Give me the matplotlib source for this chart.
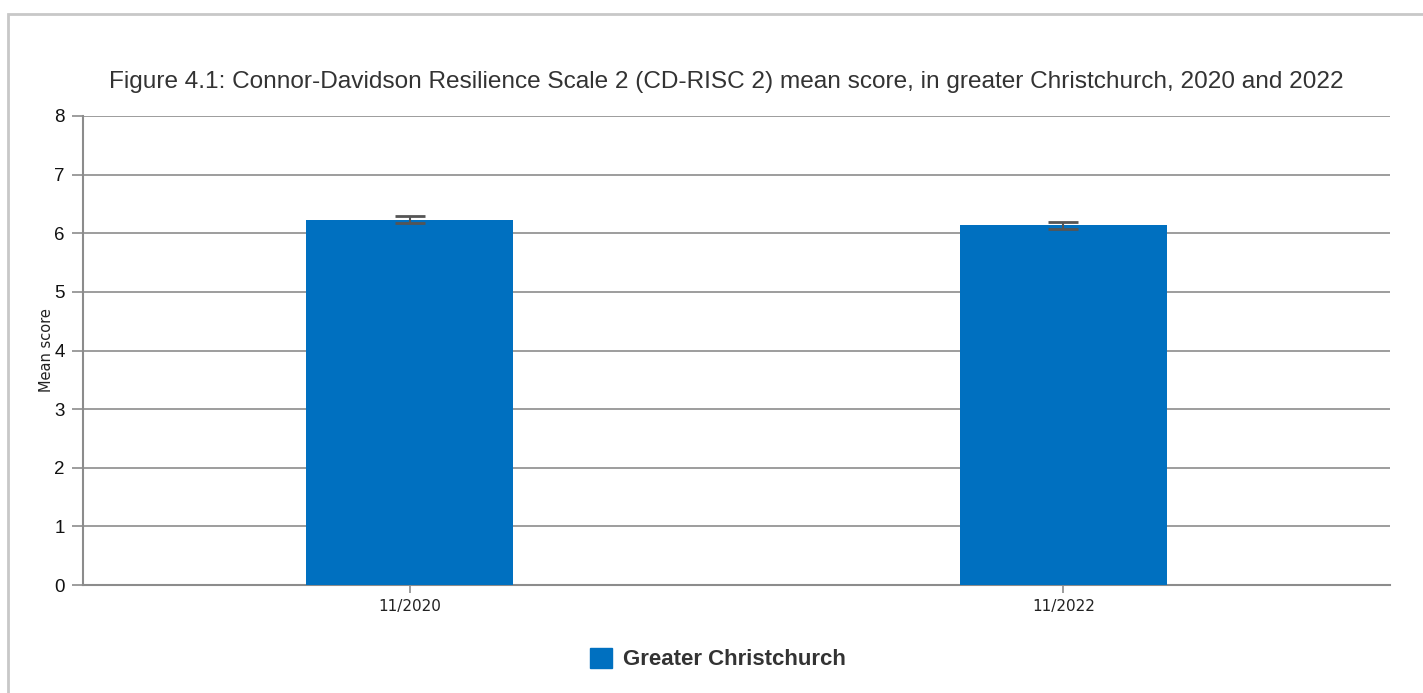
import matplotlib
matplotlib.use("Agg")
import matplotlib.pyplot as plt
from matplotlib.patches import Rectangle, Patch

categories = ["11/2020", "11/2022"]
means = [6.23, 6.14]
errors = [0.06, 0.06]
series_name = "Greater Christchurch"
title = "Figure 4.1: Connor-Davidson Resilience Scale 2 (CD-RISC 2) mean score, in greater Christchurch, 2020 and 2022"
yticks = [0, 1, 2, 3, 4, 5, 6, 7, 8]

plt.rcParams['font.family'] = ['Liberation Sans', 'DejaVu Sans']

W, H = 1423, 693
fig = plt.figure(figsize=(W/100, H/100), dpi=100)
fig.patches.append(Rectangle((8/W, -0.05), 1, 1.05 - 14/H, transform=fig.transFigure,
                             fill=False, edgecolor='#c8c8c8', linewidth=2))

left, right, top, bottom = 83, 1390, 116, 585
ax = fig.add_axes([left/W, 1 - bottom/H, (right-left)/W, (bottom-top)/H])

x = [0.5, 1.5]
ax.bar(x, means, width=0.317, color='#0070c0', zorder=3)
ax.errorbar(x, means, yerr=errors, fmt='none', ecolor='#555555', elinewidth=1.5,
            capsize=11, capthick=2, zorder=4)

ax.set_xlim(0, 2)
ax.set_ylim(0, 8)
ax.set_yticks(yticks)
ax.set_xticks(x)
ax.set_xticklabels(categories, fontsize=11, family=['DejaVu Sans'], color='#222222')
ax.set_yticklabels([str(t) for t in yticks], fontsize=13.5, color='#111111')
ax.grid(axis='y', color='#8c8c8c', linewidth=1.2, zorder=0)
for s in ['top', 'right']:
    ax.spines[s].set_visible(False)
for s in ['left', 'bottom']:
    ax.spines[s].set_color('#8c8c8c')
    ax.spines[s].set_linewidth(1.5)
ax.tick_params(axis='y', length=8, width=1.2, color='#8c8c8c', pad=5)
ax.tick_params(axis='x', length=6, width=1.2, color='#8c8c8c', pad=4)
ax.set_ylabel("Mean score", fontsize=10.5, family=['DejaVu Sans'], color='#222222', labelpad=0)

fig.text(726/W, 1 - 82/H, title, ha='center', va='center', fontsize=17.6, color='#333333')

handle = Patch(facecolor='#0070c0', edgecolor='#0070c0')
leg = fig.legend([handle], [series_name], loc='center', bbox_to_anchor=(718/W, 1 - 659/H),
                 frameon=False, handlelength=1.0, handleheight=1.0, handletextpad=0.5,
                 prop={'size': 16, 'weight': 'bold'})
for t in leg.get_texts():
    t.set_color('#333333')

fig.savefig("out.png", dpi=100)
